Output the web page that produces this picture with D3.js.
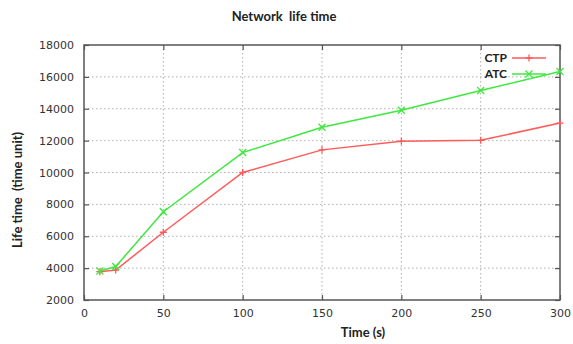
<!DOCTYPE html>
<html>
<head>
<meta charset="utf-8">
<script src="https://cdn.jsdelivr.net/npm/d3@7"></script>
<style>
  body { margin: 0; background: #fff; }
  svg { display: block; }
</style>
</head>
<body>
<svg id="chart"></svg>
<script>
// data
const timeSec = [10, 20, 50, 100, 150, 200, 250, 300];
const ctpLife = [3780, 3880, 6250, 10000, 11420, 11960, 12020, 13100];
const atcLife = [3820, 4100, 7540, 11250, 12840, 13910, 15140, 16340];
const xTicks = [0, 50, 100, 150, 200, 250, 300];
const yTicks = [2000, 4000, 6000, 8000, 10000, 12000, 14000, 16000, 18000];

const width = 573, height = 344;
const margin = { top: 45, right: 13, bottom: 44, left: 84 };
const innerW = width - margin.left - margin.right;
const innerH = height - margin.top - margin.bottom;

const svg = d3.select("#chart").attr("width", width).attr("height", height);
const root = svg.append("g").attr("transform", `translate(${margin.left},${margin.top})`);

const x = d3.scaleLinear().domain([0, 300]).range([0, innerW]);
const y = d3.scaleLinear().domain([2000, 18000]).range([innerH, 0]);

const tickFont = "'DejaVu Sans', sans-serif";
const labelFont = "Lato, 'Open Sans', sans-serif";

// grid
const grid = root.append("g");
grid.selectAll("line.gx")
  .data(xTicks.slice(1, -1))
  .join("line")
  .attr("x1", (d) => x(d)).attr("x2", (d) => x(d))
  .attr("y1", 0).attr("y2", innerH)
  .attr("stroke", "#b0b0b0").attr("stroke-width", 1).attr("stroke-dasharray", "1.5,2.5");
grid.selectAll("line.gy")
  .data(yTicks.slice(1, -1))
  .join("line")
  .attr("x1", 0).attr("x2", innerW)
  .attr("y1", (d) => y(d)).attr("y2", (d) => y(d))
  .attr("stroke", "#b0b0b0").attr("stroke-width", 1).attr("stroke-dasharray", "1.5,2.5");

// axes with inward ticks, mirrored
const axisStyle = (g) => {
  g.select(".domain").remove();
  g.selectAll(".tick line").attr("stroke", "#555").attr("stroke-width", 1.2);
  g.selectAll(".tick text").attr("font-family", tickFont).attr("font-size", 11).attr("fill", "#333");
};
root.append("g").attr("transform", `translate(0,${innerH})`)
  .call(d3.axisBottom(x).tickValues(xTicks).tickSizeInner(-5).tickPadding(9).tickFormat(d3.format("d")))
  .call(axisStyle);
root.append("g")
  .call(d3.axisTop(x).tickValues(xTicks).tickSizeInner(-5).tickFormat(""))
  .call(axisStyle);
root.append("g")
  .call(d3.axisLeft(y).tickValues(yTicks).tickSizeInner(-5).tickPadding(10).tickFormat(d3.format("d")))
  .call(axisStyle);
root.append("g").attr("transform", `translate(${innerW},0)`)
  .call(d3.axisRight(y).tickValues(yTicks).tickSizeInner(-5).tickFormat(""))
  .call(axisStyle);

root.append("rect")
  .attr("width", innerW).attr("height", innerH)
  .attr("fill", "none").attr("stroke", "#555").attr("stroke-width", 1.5);

// series
const series = [
  { name: "CTP", values: ctpLife, color: "#ff5a5a", marker: "plus" },
  { name: "ATC", values: atcLife, color: "#3ee83e", marker: "cross" },
];
const line = d3.line().x((d) => x(d[0])).y((d) => y(d[1]));
const markerPath = (type, cx, cy) => {
  const s = 3.5;
  return type === "plus"
    ? `M${cx - s},${cy}H${cx + s}M${cx},${cy - s}V${cy + s}`
    : `M${cx - s},${cy - s}L${cx + s},${cy + s}M${cx - s},${cy + s}L${cx + s},${cy - s}`;
};

series.forEach((s) => {
  const pts = timeSec.map((t, i) => [t, s.values[i]]);
  root.append("path")
    .attr("d", line(pts))
    .attr("fill", "none").attr("stroke", s.color).attr("stroke-width", 1.5);
  root.append("g").selectAll("path")
    .data(pts)
    .join("path")
    .attr("d", (d) => markerPath(s.marker, x(d[0]), y(d[1])))
    .attr("stroke", s.color).attr("stroke-width", 1.3).attr("fill", "none");
});

// legend
const legend = svg.append("g");
series.forEach((s, i) => {
  const ly = 58 + i * 16;
  legend.append("text")
    .attr("x", 507).attr("y", ly)
    .attr("dy", "0.35em")
    .attr("text-anchor", "end")
    .attr("font-family", labelFont).attr("font-size", 12).attr("font-weight", "bold")
    .attr("fill", "#222")
    .text(s.name);
  legend.append("line")
    .attr("x1", 512).attr("x2", 546).attr("y1", ly).attr("y2", ly)
    .attr("stroke", s.color).attr("stroke-width", 1.5);
  legend.append("path")
    .attr("d", markerPath(s.marker, 529, ly))
    .attr("stroke", s.color).attr("stroke-width", 1.3).attr("fill", "none");
});

// titles
svg.append("text")
  .attr("x", 284).attr("y", 21)
  .attr("text-anchor", "middle")
  .attr("font-family", labelFont).attr("font-size", 13).attr("font-weight", "bold")
  .attr("fill", "#222")
  .attr("xml:space", "preserve")
  .text("Network  life time");
svg.append("text")
  .attr("x", 363).attr("y", 337)
  .attr("text-anchor", "middle")
  .attr("font-family", labelFont).attr("font-size", 13).attr("font-weight", "bold")
  .attr("fill", "#222")
  .text("Time (s)");
svg.append("text")
  .attr("transform", "translate(22,190) rotate(-90)")
  .attr("text-anchor", "middle")
  .attr("font-family", labelFont).attr("font-size", 13).attr("font-weight", "bold")
  .attr("fill", "#222")
  .attr("xml:space", "preserve")
  .text("Life time  (time unit)");
</script>
</body>
</html>
